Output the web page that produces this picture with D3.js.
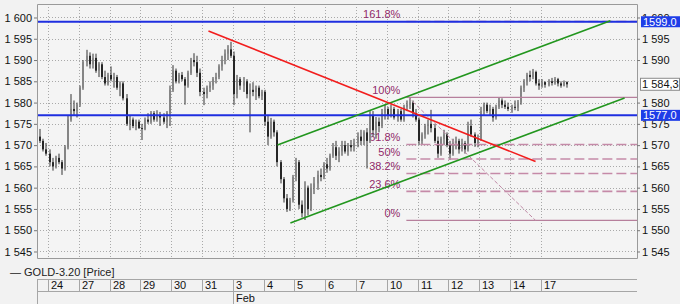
<!DOCTYPE html>
<html><head><meta charset="utf-8">
<script src="https://cdn.jsdelivr.net/npm/d3@7"></script>
<style>
html,body{margin:0;padding:0;background:#f2f2f2;}
svg{display:block;font-family:"Liberation Sans",Arial,sans-serif;}
</style></head><body>
<svg id="c" width="680" height="304"></svg>
<script>
// ---------------- DATA ----------------
const dayLabels = ["24","27","28","29","30","31","3","4","5","6","7","10","11","12","13","14","17"];
const monthLabels = [{dayIndex: 6, label: "Feb"}];
const candlesPerDay = 10;
const firstCandle = -4;   // candles before the first labelled day
const seriesName = "GOLD-3.20 [Price]";
// [open, high, low, close]
const candleOHLC = [
[1573.5,1574.2,1571.5,1572],[1572,1573.8,1570.5,1571],[1571,1571.5,1568.5,1569],[1569,1570.5,1567.5,1568],
[1568,1569,1565,1566],[1566,1567,1564,1565],[1565,1567.5,1564.5,1567],[1567,1568,1565.5,1566],[1566,1566.5,1563,1564.5],
[1564.5,1570,1564,1569.5],[1569.5,1577,1569,1576],[1576,1582,1575.5,1578.5],[1578.5,1580.5,1577,1578],[1578,1580,1576.5,1579.5],
[1579.5,1584,1579,1583.5],[1583.5,1590,1583,1589.5],[1589.5,1592.4,1588.5,1591],[1591,1591.8,1588,1589],[1589,1591.5,1588,1590.5],
[1590.5,1591.5,1587,1587.5],[1587.5,1589.5,1586,1589],[1589,1589.5,1585.5,1586],[1586,1587.5,1584,1584.5],[1584.5,1587,1584,1586.5],
[1586.5,1588.5,1585,1585.5],[1585.5,1587,1583.5,1586],[1586,1586.5,1583,1583.5],[1583.5,1585,1581.5,1584.5],[1584.5,1585,1580.5,1581],
[1581,1582,1574.5,1575],[1575,1577,1573.5,1576],[1576,1576.5,1574,1574.5],[1574.5,1576,1573.5,1575.5],[1575.5,1576,1573.8,1574],
[1574,1575,1571.2,1573.8],[1573.8,1576.5,1573.5,1576],[1576,1577.5,1575,1575.5],[1575.5,1578,1575,1577.5],[1577.5,1578,1575.5,1576],
[1576,1578.2,1575.5,1577],[1577,1577.8,1574.5,1576.5],[1576.5,1577.5,1575,1575.5],[1575.5,1578,1574,1577.5],[1577.5,1584,1574.5,1583],
[1583,1588.8,1582.5,1587.5],[1587.5,1588,1584.5,1585],[1585,1587,1584.5,1586.5],[1586.5,1587.2,1585,1585.5],[1585.5,1586,1579.5,1584],
[1584,1587.5,1583.5,1587],[1587,1590.5,1586.5,1590],[1590,1591.6,1588.5,1589.5],[1589.5,1591,1586,1587],[1587,1588,1581.5,1582.5],
[1582.5,1583.5,1579.4,1582],[1582,1584,1581,1583.5],[1583.5,1585,1582.5,1584],[1584,1586,1583,1585.5],[1585.5,1587,1584.5,1586],
[1586,1589,1585.5,1588.5],[1588.5,1591,1587.5,1590],[1590,1592.5,1589,1591.5],[1591.5,1593.5,1590,1592.5],[1592.5,1594.3,1590.5,1591],
[1591,1592,1579.4,1582],[1582,1586.5,1581,1585.5],[1585.5,1586,1583,1584],[1584,1586,1582.5,1585],[1585,1585.5,1581,1582],
[1582,1584.5,1573,1583],[1583,1584.8,1581.5,1582.5],[1582.5,1584,1580.6,1583.5],[1583.5,1584,1581,1581.5],[1581.5,1583,1580.6,1582.5],
[1582.5,1583,1574.5,1575.5],[1575.5,1577,1570,1572],[1572,1576.4,1571.5,1575.5],[1575.5,1576,1572,1573],[1573,1573.5,1565,1566],
[1566,1566.5,1561,1562],[1562,1562.5,1556.5,1557.5],[1557.5,1558.5,1554.3,1555],[1555,1557.6,1554.5,1557],[1557,1563,1556.5,1562.5],
[1562.5,1567,1561.5,1566],[1566,1566.5,1555,1556],[1556,1557,1553,1554],[1554,1561.5,1552.4,1560],[1560,1560.5,1553.5,1555],
[1555,1561,1554.5,1560],[1560,1562.5,1558.5,1561],[1561,1564,1559.5,1563],[1563,1564.5,1561.5,1562.5],[1562.5,1566,1562,1565.5],
[1565.5,1567,1563.5,1564.5],[1564.5,1568,1564,1567.5],[1567.5,1570.5,1567,1569.5],[1569.5,1571,1566.5,1567.5],[1567.5,1569.5,1566,1568.5],
[1568.5,1571,1567.5,1570],[1570,1571,1568,1568.5],[1568.5,1570.5,1567.5,1570],[1570,1571.2,1568.5,1569.5],[1569.5,1571.5,1568.5,1570.5],
[1570.5,1573,1569.5,1572],[1572,1573.6,1570,1571],[1571,1573.5,1570,1573],[1573,1574,1564.5,1571],[1571,1578,1570.5,1577],
[1577,1578,1572,1573.5],[1573.5,1576.6,1571.5,1575.5],[1575.5,1576.5,1573,1574.5],[1574.5,1578.5,1574,1577.5],[1577.5,1579.5,1576,1578.5],
[1578.5,1579,1576,1577],[1577,1579.5,1576.5,1578.5],[1578.5,1579,1576,1576.5],[1576.5,1578.5,1575.5,1578],[1578,1578.5,1575.5,1576],
[1576,1579.5,1575.5,1579],[1579,1580.5,1578,1579.5],[1579.5,1581.2,1578.5,1580],[1580,1580.5,1576.5,1577.5],[1577.5,1578.5,1575.5,1576],
[1576,1576.5,1570,1571],[1571,1573,1570.2,1572.5],[1572.5,1575,1571.5,1574.5],[1574.5,1576,1572.5,1575],[1575,1578.3,1573,1574],
[1574,1575,1570.5,1571],[1571,1572,1567,1568],[1568,1572,1567.5,1571.5],[1571.5,1573.6,1570,1572.5],[1572.5,1573,1569.5,1570],
[1570,1571,1566.5,1568],[1568,1571.5,1567.5,1570.5],[1570.5,1572,1569,1571],[1571,1571.5,1568,1569],[1569,1571.5,1568.5,1570.5],
[1570.5,1571,1568,1569],[1569,1575.5,1568.5,1574.5],[1574.5,1576,1572,1572.5],[1572.5,1573,1569.6,1570.5],[1570.5,1572.5,1569.5,1571.5],
[1571.5,1579,1571,1578],[1578,1580,1577,1579.5],[1579.5,1580,1577.5,1578],[1578,1579.5,1577,1578.5],[1578.5,1579,1575.5,1576.5],
[1576.5,1579.5,1576,1579],[1579,1581.3,1578.5,1580.5],[1580.5,1581,1578.7,1579.5],[1579.5,1580.5,1578.5,1579],[1579,1580,1578,1578.5],
[1578.5,1579.5,1577.6,1579],[1579,1580.5,1578.2,1578.8],[1578.8,1580.6,1578,1580],[1580,1584,1579.5,1583.5],[1583.5,1585.5,1582.5,1584.8],
[1584.8,1587,1584,1586.5],[1586.5,1587.5,1585,1586],[1586,1587.9,1585.5,1587.2],[1587.2,1587.5,1584,1584.5],[1584.5,1585.5,1583,1584],
[1584,1585.5,1583.5,1584.8],[1584.8,1585,1583.5,1584.2],[1584.2,1585.5,1583.8,1585],[1585,1585.8,1584,1584.6],[1584.6,1586,1584.2,1585.5],
[1585.5,1585.8,1583.8,1584.5],[1584.5,1585,1583.5,1584],[1584,1585.2,1583.8,1584.8],[1584.8,1585,1583.5,1584.3]
];
const yTicks = [1545,1550,1555,1560,1565,1570,1575,1580,1585,1590,1595,1600];
const yTicksRight = [1545,1550,1555,1560,1565,1570,1575,1580,1590,1595,1600]; // 1 585 sits under the last-price box
const blueLevels = [1599.0, 1577.0];
const blueLabels = ["1599.0", "1577.0"];
const lastPrice = 1584.3;
const lastPriceLabel = "1 584,3";
// trend lines: [candle slot, price]
const redLine = [[52.1,1596.83],[158.3,1566.15]];
const greenUpper = [[74.5,1570.03],[182.6,1599.25]];
const greenLower = [[78.7,1551.69],[187.2,1581.08]];
// fibonacci retracement anchors
const fibHigh = {slot: 117.0, price: 1581.2};
const fibLow = {slot: 158.3, price: 1552.3};
const fibLevels = [0, 23.6, 38.2, 50, 61.8, 100, 161.8];
const fibLabels = ["0%","23.6%","38.2%","50%","61.8%","100%","161.8%"];

// ---------------- CHART ----------------
const svg = d3.select("#c");
const plot = {l:37, r:637, t:4, b:258};
const nDays = dayLabels.length - 1;
const x = d3.scaleLinear().domain([0, nDays*candlesPerDay]).range([48, 540.8]);
const y = d3.scaleLinear().domain([1543.47, 1603.17]).range([plot.b, plot.t]);
const fmtTick = v => String(v).replace(/\B(?=(\d{3})+(?!\d))/g, " ");

svg.append("rect").attr("width",680).attr("height",304).attr("fill","#f2f2f2");
svg.append("rect").attr("x",plot.l).attr("y",plot.t).attr("width",plot.r-plot.l).attr("height",plot.b-plot.t).attr("fill","#f4f4f4");

svg.append("defs").append("clipPath").attr("id","clip").append("rect")
  .attr("x",plot.l).attr("y",plot.t).attr("width",plot.r-plot.l).attr("height",plot.b-plot.t);

const grid = svg.append("g").attr("stroke","#a9a9a9").attr("stroke-dasharray","1,2").attr("stroke-width",1);
yTicks.forEach(v => {
  const yy = Math.round(y(v))+0.5;
  grid.append("line").attr("x1",plot.l).attr("x2",plot.r).attr("y1",yy).attr("y2",yy);
});
d3.range(0, nDays+1).forEach(k => {
  const xx = Math.round(x(k*candlesPerDay))+0.5;
  grid.append("line").attr("x1",xx).attr("x2",xx).attr("y1",plot.t).attr("y2",plot.b);
});

const g = svg.append("g").attr("clip-path","url(#clip)");

// fibonacci labels (beneath the candles and lines, as in the original)
const fibColor = "#c58aa8", fibText = "#922a6a";
const fx0 = x(fibHigh.slot), fx1 = plot.r;
const fibVal = p => fibLow.price + p/100*(fibHigh.price - fibLow.price);
fibLevels.forEach((p,i) => {
  g.append("text").attr("x",fx0-8).attr("y",y(fibVal(p))-3).attr("text-anchor","end")
    .attr("font-size",11).attr("fill",fibText).text(fibLabels[i]);
});

// candles
const cg = g.append("g");
candleOHLC.forEach((d,j) => {
  const slot = firstCandle + j;
  const cx = x(slot + 0.5);
  const left = Math.round(cx - 1);
  const [o,h,l,c] = d;
  const up = c >= o;
  cg.append("line").attr("x1",left+1).attr("x2",left+1)
    .attr("y1",y(h)).attr("y2",y(l)).attr("stroke", "#333").attr("stroke-width",1);
  const top = y(Math.max(o,c)), bot = y(Math.min(o,c));
  cg.append("rect").attr("x",left).attr("y",top).attr("width",2)
    .attr("height",Math.max(1,bot-top)).attr("fill", up ? "#858585" : "#262626");
});

// fibonacci lines
fibLevels.forEach((p,i) => {
  const yy = y(fibVal(p));
  const solid = (p === 0 || p === 100);
  g.append("line").attr("x1",fx0-2).attr("x2",fx1).attr("y1",yy).attr("y2",yy)
    .attr("stroke", solid ? "#b67f9c" : fibColor).attr("stroke-width", solid ? 1.2 : 1.6)
    .attr("stroke-dasharray", solid ? null : "10,4");
});
g.append("line").attr("x1",x(fibHigh.slot)).attr("y1",y(fibHigh.price))
  .attr("x2",x(fibLow.slot)).attr("y2",y(fibLow.price))
  .attr("stroke","#c08aa6").attr("stroke-width",1).attr("stroke-dasharray","4,2");

// blue horizontal levels
blueLevels.forEach(v => {
  g.append("line").attr("x1",plot.l).attr("x2",plot.r).attr("y1",y(v)).attr("y2",y(v))
    .attr("stroke","#1f2fe0").attr("stroke-width",2);
});

// trend lines
const tl = d3.line().x(d => x(d[0])).y(d => y(d[1]));
g.append("path").attr("d",tl(greenUpper)).attr("stroke","#22961e").attr("stroke-width",1.6).attr("fill","none");
g.append("path").attr("d",tl(greenLower)).attr("stroke","#22961e").attr("stroke-width",1.6).attr("fill","none");
g.append("path").attr("d",tl(redLine)).attr("stroke","#f21d1d").attr("stroke-width",1.6).attr("fill","none");

// frame
svg.append("path").attr("d",`M${plot.l+0.5},${plot.b+0.5}V${plot.t+0.5}H${plot.r+0.5}V${plot.b+0.5}H${plot.l+0.5}`)
  .attr("fill","none").attr("stroke","#9a9a9a");

// y axes
const axL = svg.append("g").attr("transform",`translate(${plot.l},0)`)
  .call(d3.axisLeft(y).tickValues(yTicks).tickSize(3).tickPadding(2).tickFormat(fmtTick));
const axR = svg.append("g").attr("transform",`translate(${plot.r},0)`)
  .call(d3.axisRight(y).tickValues(yTicksRight).tickSize(3).tickPadding(2).tickFormat(fmtTick));
[axL, axR].forEach(a => {
  a.select(".domain").remove();
  a.selectAll("text").attr("font-size",11).attr("fill","#111").attr("font-family","Liberation Sans, Arial, sans-serif");
  a.selectAll("line").attr("stroke","#777");
});

// price boxes on the right
blueLevels.forEach((v,i) => {
  const yy = y(v);
  svg.append("rect").attr("x",641).attr("y",yy-5.5).attr("width",39).attr("height",11).attr("fill","#1f3ee8");
  svg.append("text").attr("x",643).attr("y",yy+4).attr("font-size",11).attr("fill","#fff").text(blueLabels[i]);
});
{
  const yy = y(lastPrice);
  svg.append("rect").attr("x",640.5).attr("y",yy-6).attr("width",39).attr("height",12)
    .attr("fill","#fff").attr("stroke","#8a8a8a");
  svg.append("text").attr("x",642).attr("y",yy+4).attr("font-size",11).attr("fill","#111").text(lastPriceLabel);
}

// legend
svg.append("text").attr("x",10).attr("y",276).attr("font-size",11).attr("fill","#222").text("\u2014 " + seriesName);

// date axis band
const band = svg.append("g").attr("stroke","#a6a6a6").attr("stroke-width",1);
band.append("line").attr("x1",plot.l).attr("x2",plot.r).attr("y1",279.5).attr("y2",279.5);
band.append("line").attr("x1",plot.l).attr("x2",plot.r).attr("y1",291.5).attr("y2",291.5);
band.append("line").attr("x1",plot.l+0.5).attr("x2",plot.l+0.5).attr("y1",279).attr("y2",304);
dayLabels.forEach((lab,k) => {
  const xx = Math.round(x(k*candlesPerDay))+0.5;
  band.append("line").attr("x1",xx).attr("x2",xx).attr("y1",279).attr("y2",291);
  svg.append("text").attr("x",xx+2.5).attr("y",289).attr("font-size",11).attr("fill","#111").text(lab);
});
monthLabels.forEach(m => {
  const xx = Math.round(x(m.dayIndex*candlesPerDay))+0.5;
  band.append("line").attr("x1",xx).attr("x2",xx).attr("y1",291).attr("y2",304);
  svg.append("text").attr("x",xx+2.5).attr("y",302).attr("font-size",11).attr("fill","#111").text(m.label);
});
</script>
</body></html>
